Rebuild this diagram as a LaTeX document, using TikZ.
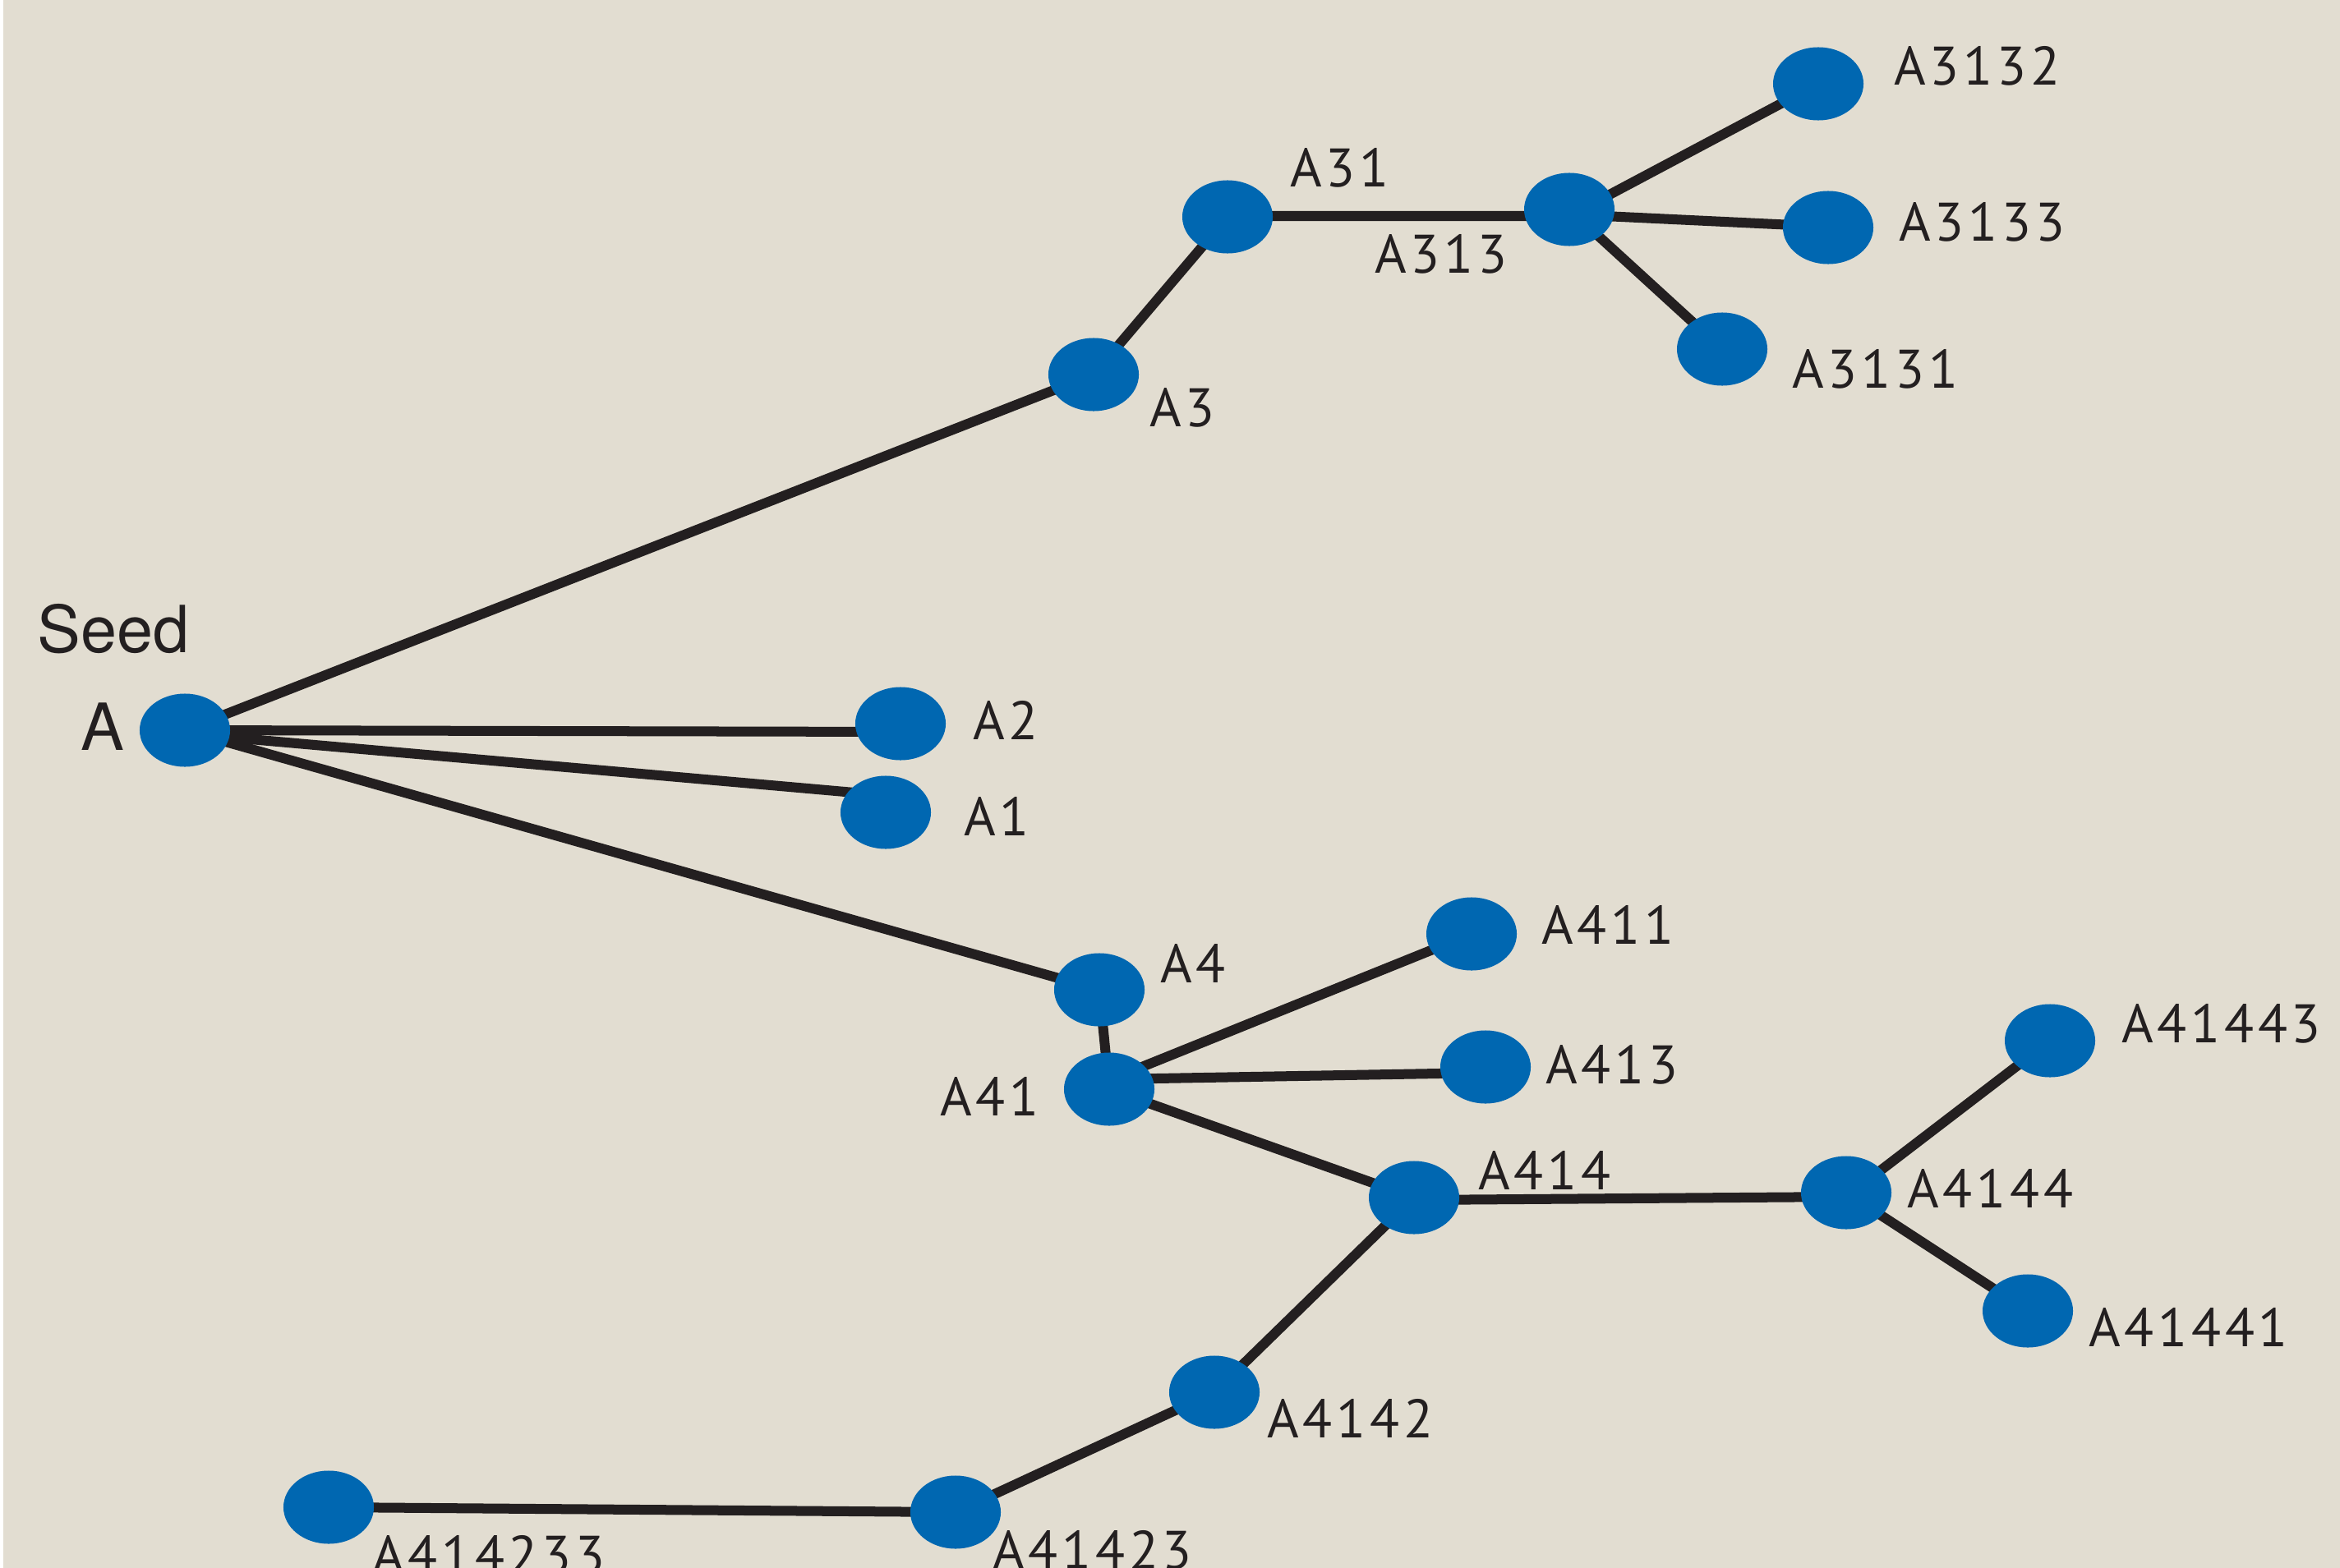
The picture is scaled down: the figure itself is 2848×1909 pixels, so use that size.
\documentclass[tikz,border=0pt]{standalone}
\usepackage{fontspec}
\usetikzlibrary{shapes.geometric}
\newfontfamily\labelfont[LetterSpace=7]{PT Sans}
\newfontfamily\seedfont{TeX Gyre Heros}
\definecolor{paper}{HTML}{E2DDD1}
\definecolor{dotblue}{HTML}{0067B1}
\definecolor{ink}{HTML}{231F20}
\tikzstyle{dot}  =[ellipse,fill=dotblue,inner sep=0pt,
                   minimum width=1.10cm,minimum height=0.89cm]
\tikzstyle{edge} =[ink,line width=0.12cm]
\tikzstyle{lbl}  =[anchor=base west,inner sep=0pt,text=ink,
                   font=\labelfont\fontsize{18.8}{20}\selectfont]
\tikzstyle{seedlbl}=[anchor=base west,inner sep=0pt,text=ink,
                   font=\seedfont\fontsize{22.5}{24}\selectfont]

\begin{document}
\begin{tikzpicture}[x=0.01cm,y=-0.01cm]
  \useasboundingbox (0,0) rectangle (2848,1909);
  \clip (0,0) rectangle (2848,1909);
  \fill[white] (0,0) rectangle (2848,1909);
  \fill[paper] (4,0) rectangle (2848,1909);

  % Core points
  \coordinate (A)       at (225,889);
  \coordinate (A1)      at (1078,989);
  \coordinate (A2)      at (1096,881);
  \coordinate (A3)      at (1331,456);
  \coordinate (A31)     at (1494,264);
  \coordinate (A313)    at (1910,255);
  \coordinate (A3131)   at (2096,425);
  \coordinate (A3132)   at (2213,102);
  \coordinate (A3133)   at (2225,277);
  \coordinate (A4)      at (1338,1205);
  \coordinate (A41)     at (1350,1326);
  \coordinate (A411)    at (1791,1137);
  \coordinate (A413)    at (1808,1299);
  \coordinate (A414)    at (1721,1458);
  \coordinate (A4144)   at (2247,1452);
  \coordinate (A41443)  at (2495,1267);
  \coordinate (A41441)  at (2468,1596);
  \coordinate (A4142)   at (1478,1695);
  \coordinate (A41423)  at (1163,1841);
  \coordinate (A414233) at (400,1835);

  % Branches (some end off-centre, as in the sketch)
  \draw[edge] (A) -- (A3) -- (A31);
  \draw[edge] ([shift={(0,-1)}]A31) -- ([shift={(0,8)}]A313) -- (A3132);
  \draw[edge] ([shift={(0,6)}]A313) -- ([shift={(0,-1)}]A3133);
  \draw[edge] (A313) -- (A3131);
  \draw[edge] (A) -- ([shift={(0,10)}]A2);
  \draw[edge] ([shift={(0,4)}]A) -- ([shift={(-38,-24)}]A1);
  \draw[edge] (A) -- (A4) -- (A41);
  \draw[edge] ([shift={(0,-11)}]A41) -- (A411);
  \draw[edge] ([shift={(0,-12)}]A41) -- ([shift={(0,7)}]A413);
  \draw[edge] (A41) -- (A414);
  \draw[edge] ([shift={(0,3)}]A414) -- ([shift={(0,5)}]A4144) -- (A41443);
  \draw[edge] (A4144) -- (A41441);
  \draw[edge] (A414) -- (A4142) -- (A41423) -- (A414233);

  % Dots
  \foreach \p in {A,A1,A2,A3,A31,A313,A3131,A3132,A3133,A4,A41,A411,
                  A413,A414,A4144,A41443,A41441,A4142,A41423,A414233}
    \node[dot] (\p-dot) at (\p) {};

  % Labels
  \node[seedlbl] (seed-lbl) at (45,794)  {Seed};
  \node[seedlbl] (A-lbl)    at (98,913)  {A};
  \node[lbl] (A1-lbl)      at (1173,1017) {A1};
  \node[lbl] (A2-lbl)      at (1184,900)  {A2};
  \node[lbl] (A3-lbl)      at (1399,519)  {A3};
  \node[lbl] (A31-lbl)     at (1570,227)  {A31};
  \node[lbl] (A313-lbl)    at (1673,332)  {A313};
  \node[lbl] (A3131-lbl)   at (2181,472)  {A3131};
  \node[lbl] (A3132-lbl)   at (2305,103)  {A3132};
  \node[lbl] (A3133-lbl)   at (2311,293)  {A3133};
  \node[lbl] (A4-lbl)      at (1412,1196) {A4};
  \node[lbl,anchor=base east] (A41-lbl) at (1265,1358) {A41};
  \node[lbl] (A411-lbl)    at (1876,1149) {A411};
  \node[lbl] (A413-lbl)    at (1881,1319) {A413};
  \node[lbl] (A414-lbl)    at (1799,1448) {A414};
  \node[lbl] (A4144-lbl)   at (2321,1470) {A4144};
  \node[lbl] (A41443-lbl)  at (2582,1269) {A41443};
  \node[lbl] (A41441-lbl)  at (2542,1639) {A41441};
  \node[lbl] (A4142-lbl)   at (1542,1750) {A4142};
  \node[lbl] (A41423-lbl)  at (1208,1910) {A41423};
  \node[lbl] (A414233-lbl) at (453,1916)  {A414233};
\end{tikzpicture}
\end{document}
